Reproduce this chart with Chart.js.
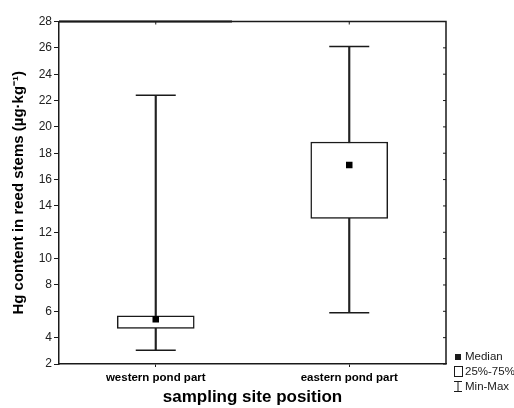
<!DOCTYPE html>
<html>
<head>
<meta charset="utf-8">
<script src="https://cdn.jsdelivr.net/npm/chart.js@4/dist/chart.umd.min.js"></script>
<style>
  html, body { margin: 0; padding: 0; background: #fff; }
  #wrap { width: 514px; height: 408px; }
</style>
</head>
<body>
<div id="wrap"><canvas id="chartBox"></canvas></div>
<script>
// valeurs
const categories = ['western pond part', 'eastern pond part'];
const minVals = [3.05, 5.9];
const q1Vals = [4.7, 13.05];
const medianVals = [5.4, 17.1];
const q3Vals = [5.65, 18.85];
const maxVals = [22.4, 26.1];
const yMin = 2, yMax = 28, yStep = 2;

const ink = '#1a1a1a';

// cadre haut / droite avec petits traits vers l'intérieur
const framePlugin = {
  id: 'frame',
  afterDraw(chart) {
    const { ctx, chartArea: a, scales } = chart;
    ctx.save();
    ctx.strokeStyle = ink;
    ctx.lineWidth = 1.5;
    ctx.beginPath();
    ctx.moveTo(a.left, a.top);
    ctx.lineTo(a.right, a.top);
    ctx.lineTo(a.right, a.bottom);
    ctx.stroke();
    // trait du haut un peu plus épais à gauche, comme sur l'original
    ctx.lineWidth = 2;
    ctx.beginPath();
    ctx.moveTo(a.left, a.top);
    ctx.lineTo(232, a.top);
    ctx.stroke();
    ctx.lineWidth = 1;
    ctx.beginPath();
    scales.y.ticks.forEach(t => {
      const y = scales.y.getPixelForValue(t.value);
      ctx.moveTo(a.right, y);
      ctx.lineTo(a.right - 3, y);
    });
    categories.forEach((c, i) => {
      const x = scales.x.getPixelForValue(i);
      ctx.moveTo(x, a.top);
      ctx.lineTo(x, a.top + 3);
    });
    ctx.stroke();
    ctx.restore();
  }
};

// légende en bas à droite
const legendPlugin = {
  id: 'boxLegend',
  afterDraw(chart) {
    const { ctx } = chart;
    ctx.save();
    ctx.fillStyle = ink;
    ctx.strokeStyle = ink;
    ctx.lineWidth = 1;
    ctx.font = '11.5px "Liberation Sans", Arial, sans-serif';
    ctx.textBaseline = 'middle';
    // Median
    ctx.fillRect(455, 354, 6, 6);
    ctx.fillText('Median', 465, 357);
    // 25%-75%
    ctx.strokeRect(454.5, 366.5, 8, 10);
    ctx.fillText('25%-75%', 465, 372);
    // Min-Max
    ctx.beginPath();
    ctx.moveTo(454, 381.5); ctx.lineTo(462, 381.5);
    ctx.moveTo(458, 381.5); ctx.lineTo(458, 391.5);
    ctx.moveTo(454, 391.5); ctx.lineTo(462, 391.5);
    ctx.stroke();
    ctx.fillText('Min-Max', 465, 387);
    ctx.restore();
  }
};

new Chart(document.getElementById('chartBox'), {
  type: 'bar',
  data: {
    labels: categories,
    datasets: [
      {
        label: 'Min-Max',
        data: categories.map((c, i) => [minVals[i], maxVals[i]]),
        backgroundColor: '#222',
        borderWidth: 0,
        barThickness: 1.5,
        grouped: false,
        order: 4
      },
      {
        label: '25%-75%',
        data: categories.map((c, i) => [q1Vals[i], q3Vals[i]]),
        backgroundColor: '#fff',
        borderColor: ink,
        borderWidth: 1.5,
        borderSkipped: false,
        barThickness: 77,
        grouped: false,
        order: 3
      },
      {
        type: 'line',
        label: 'min',
        data: minVals,
        showLine: false,
        pointStyle: 'line',
        pointRadius: 20,
        borderColor: ink,
        pointBorderWidth: 1.5,
        order: 2
      },
      {
        type: 'line',
        label: 'max',
        data: maxVals,
        showLine: false,
        pointStyle: 'line',
        pointRadius: 20,
        borderColor: ink,
        pointBorderWidth: 1.5,
        order: 2
      },
      {
        type: 'line',
        label: 'Median',
        data: medianVals,
        showLine: false,
        pointStyle: 'rect',
        pointRadius: 4.6,
        pointBackgroundColor: '#000',
        pointBorderWidth: 0,
        order: 1
      }
    ]
  },
  options: {
    responsive: true,
    maintainAspectRatio: false,
    animation: false,
    events: [],
    layout: { padding: { top: 19, right: 68, left: 0, bottom: 0 } },
    plugins: {
      legend: { display: false },
      tooltip: { enabled: false }
    },
    scales: {
      x: {
        afterFit(scale) { scale.height = 44; },
        grid: { drawOnChartArea: false, offset: false, tickLength: 3, color: ink },
        border: { color: ink, width: 1.5 },
        ticks: {
          color: '#000',
          padding: 4,
          font: { family: '"Liberation Sans", Arial, sans-serif', size: 11.5, weight: 'bold' }
        },
        title: {
          display: true,
          text: 'sampling site position',
          color: '#000',
          padding: { top: 0, bottom: 0 },
          font: { family: '"Liberation Sans", Arial, sans-serif', size: 17, weight: 'bold' }
        }
      },
      y: {
        min: yMin,
        max: yMax,
        afterFit(scale) { scale.width = 59; },
        grid: { drawOnChartArea: false, tickLength: 5, color: ink },
        border: { color: ink, width: 1.5 },
        ticks: {
          stepSize: yStep,
          color: '#222',
          padding: 2,
          font: { family: '"Liberation Sans", Arial, sans-serif', size: 12 }
        },
        title: {
          display: true,
          text: 'Hg content in reed stems (µg·kg⁻¹)',
          color: '#000',
          padding: { top: 10, bottom: 0 },
          font: { family: '"Liberation Sans", Arial, sans-serif', size: 15, weight: 'bold' }
        }
      }
    }
  },
  plugins: [framePlugin, legendPlugin]
});
</script>
</body>
</html>
